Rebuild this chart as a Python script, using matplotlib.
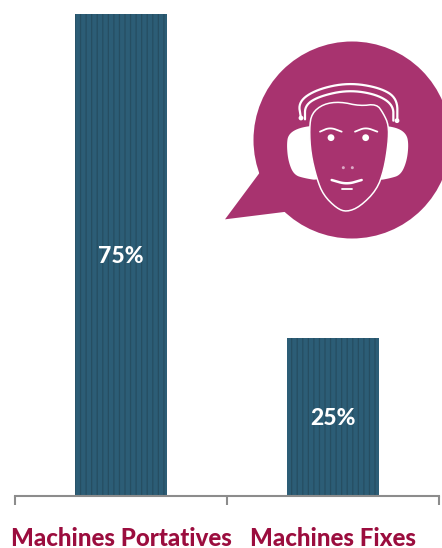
import numpy as np
import matplotlib
matplotlib.use("Agg")
import matplotlib.pyplot as plt
from matplotlib.patches import Circle, Polygon

# Chart data
categories = ["Machines Portatives", "Machines Fixes"]
values = [75.3, 24.7]
value_labels = ["75%", "25%"]

W, H = 442, 548
BAR_COLOR = "#2c5d76"
ICON_COLOR = "#a8336f"
LABEL_COLOR = "#9b0d3e"
AXIS_COLOR = "#8c8c8c"

plt.rcParams["font.family"] = ["Lato", "DejaVu Sans"]
plt.rcParams["hatch.linewidth"] = 0.9

fig = plt.figure(figsize=(W / 100, H / 100), dpi=100)

# Bars
ax = fig.add_axes([15 / W, 1 - 495.5 / H, 424 / W, 481.5 / H])
x = np.arange(len(categories))
ax.bar(x, values, width=0.434, color=BAR_COLOR, edgecolor="#264e62", linewidth=0, hatch="|||")
for xi, v, lab in zip(x, values, value_labels):
    ax.annotate(lab, (xi, v / 2), xytext=(0, -1.5), textcoords="offset points", color="white",
                fontsize=16.5, fontweight=900, ha="center", va="center")

ax.set_xlim(-0.5, 1.5)
ax.set_ylim(0, 75.3)
ax.set_yticks([])
for side in ["top", "left", "right"]:
    ax.spines[side].set_visible(False)
ax.spines["bottom"].set_color(AXIS_COLOR)
ax.spines["bottom"].set_linewidth(1.5)
ax.set_xticks(x)
ax.set_xticklabels(categories, fontsize=17.3, fontweight=900, color=LABEL_COLOR)
ax.tick_params(axis="x", which="major", length=0, pad=22.5)
ax.set_xticks([-0.5, 0.5, 1.5], minor=True)
ax.tick_params(axis="x", which="minor", length=6.5, width=1.5, color=AXIS_COLOR)


# Icon, drawn in the pixel coordinates of the figure
def smooth(points, closed=False, rounds=3):
    pts = np.array(points, dtype=float)
    for _ in range(rounds):
        a = pts if closed else pts[:-1]
        b = np.roll(pts, -1, axis=0) if closed else pts[1:]
        q = 0.75 * a + 0.25 * b
        r = 0.25 * a + 0.75 * b
        new = np.empty((len(a) * 2, 2))
        new[0::2] = q
        new[1::2] = r
        if not closed:
            new = np.vstack([pts[0], new, pts[-1]])
        pts = new
    return pts / 3 + [220, 30]


icon = fig.add_axes([0, 0, 1, 1], facecolor="none")
icon.set_xlim(0, W)
icon.set_ylim(H, 0)
icon.axis("off")

icon.add_patch(Circle((352, 140), 98.5, color=ICON_COLOR, lw=0))
icon.add_patch(Polygon(smooth([(125, 420), (15, 568), (200, 545)], closed=True, rounds=0), color=ICON_COLOR, lw=0))

left_ear = [(240, 292), (205, 312), (200, 345), (205, 395), (222, 435), (255, 445), (300, 452), (320, 400), (320, 340), (300, 285)]
right_ear = [(530, 292), (560, 312), (566, 345), (560, 395), (542, 435), (510, 445), (470, 452), (450, 400), (450, 340), (470, 285)]
for ear in (left_ear, right_ear):
    icon.add_patch(Polygon(smooth(ear, closed=True), color="white", lw=0))

# face filled over the inner side of the ear cups
face = [(268, 295), (275, 250), (310, 222), (360, 215), (420, 228), (470, 222), (490, 250), (506, 285),
        (505, 340), (492, 420), (470, 480), (420, 530), (380, 546), (350, 535), (310, 495), (290, 445), (272, 370)]
icon.add_patch(Polygon(smooth(face, closed=True, rounds=2), facecolor=ICON_COLOR, edgecolor="white", lw=1.1))

white_lines = [
    ([(243, 265), (235, 215), (290, 178), (385, 158), (480, 173), (532, 205), (532, 272)], 1.6),
    ([(255, 268), (255, 225), (300, 198), (385, 180), (470, 193), (520, 225), (520, 272)], 1.6),
    ([(300, 305), (330, 292), (365, 305)], 1.3),
    ([(405, 305), (437, 292), (472, 305)], 1.3),
    ([(335, 450), (380, 463), (425, 450)], 1.8),
    ([(365, 477), (395, 477)], 1.3),
]
for pts, lw in white_lines:
    line = smooth(pts)
    icon.plot(line[:, 0], line[:, 1], color="white", lw=lw, solid_capstyle="round")

dots = [(333, 323, 3.4), (437, 323, 3.4), (243, 264, 2.4), (531, 272, 2.4)]
for zx, zy, r in dots:
    icon.add_patch(Circle((zx / 3 + 220, zy / 3 + 30), r, color="white", lw=0))
for zx in (370, 397):
    icon.add_patch(Circle((zx / 3 + 220, 413 / 3 + 30), 1.5, color="#dcaac6", lw=0))

fig.savefig("out.png", dpi=100)
